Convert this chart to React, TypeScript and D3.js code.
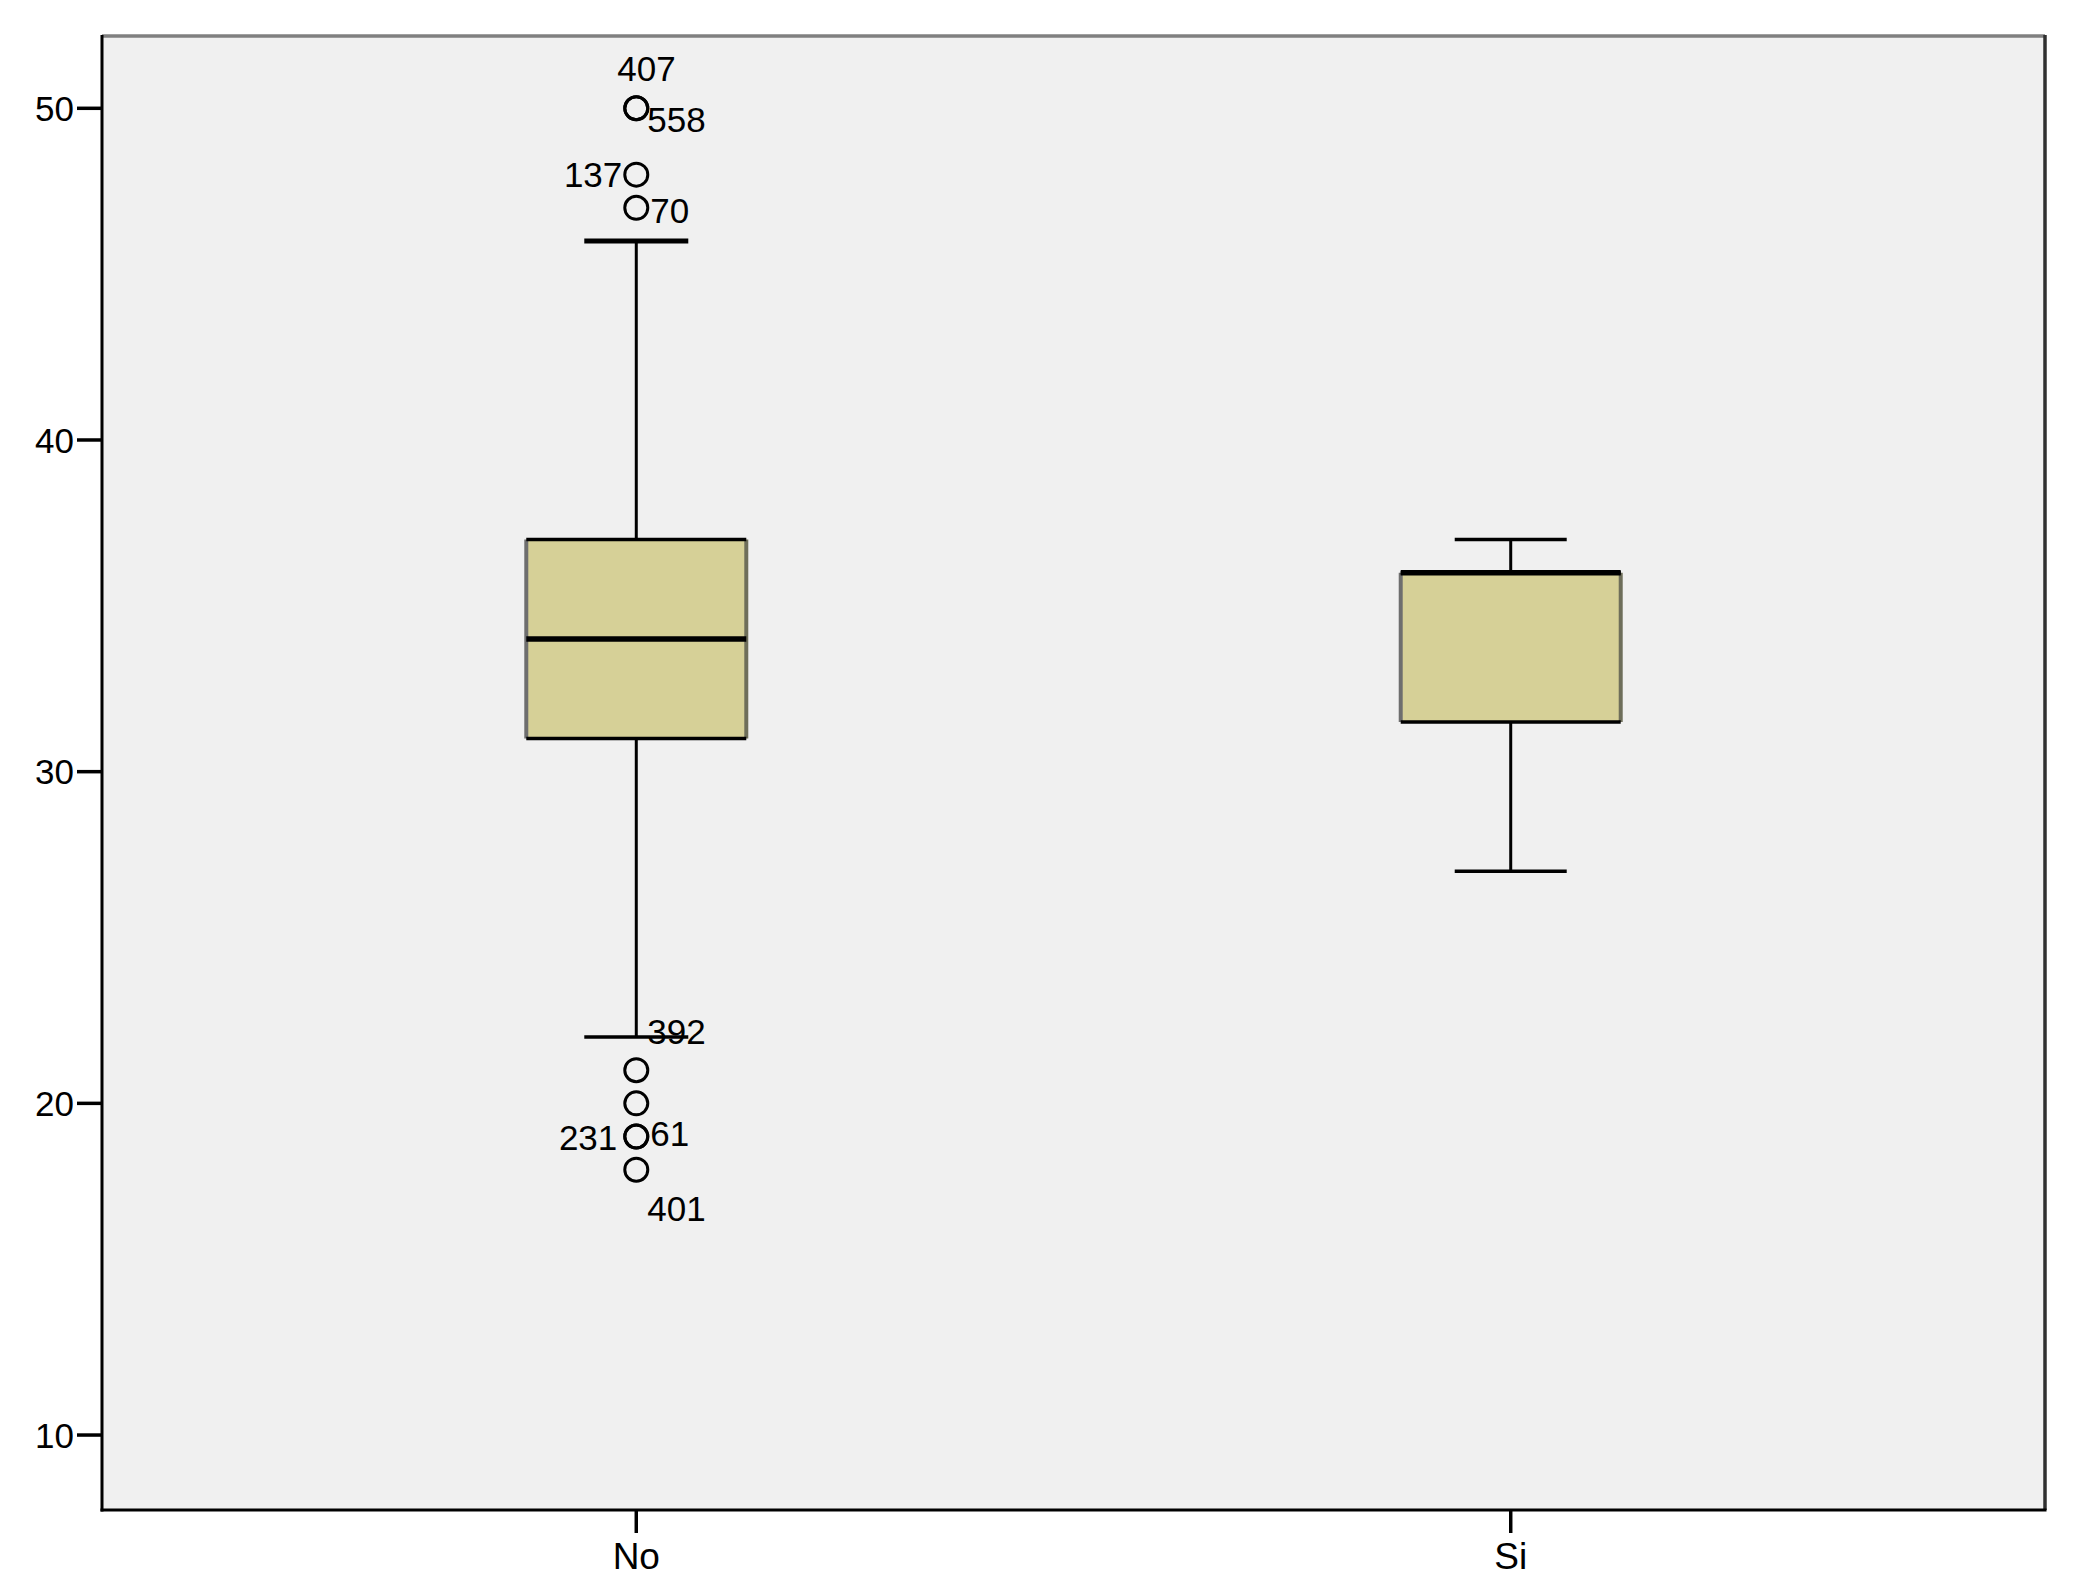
import React from "react";
import * as d3 from "d3";

const categories = ["No", "Si"];
const q1Values = [31, 31.5];
const medianValues = [34, 36];
const q3Values = [37, 36];
const whiskerLowValues = [22, 27];
const whiskerHighValues = [46, 37];
const yTickValues = [10, 20, 30, 40, 50];

const outlierGroup = ["No", "No", "No", "No", "No", "No", "No", "No", "No"];
const outlierValues = [50, 50, 48, 47, 21, 20, 19, 19, 18];
const outlierLabels = ["407", "558", "137", "70", "392", "", "231", "61", "401"];

// label placement styles (dx, dy, anchor) for each outlier label
const labelStyle: [number, number, string][] = [
  [-19, -27, "start"],
  [11, 24, "start"],
  [-14, 12, "end"],
  [14, 15, "start"],
  [11, -26, "start"],
  [0, 0, "start"],
  [-19, 13, "end"],
  [14, 9, "start"],
  [11, 51, "start"],
];

const W = 2082;
const H = 1594;
const L = 102;
const R = 2045;
const T = 35;
const B = 1510;
const FONT = "'Liberation Sans', Arial, sans-serif";

export default function App() {
  const y = d3.scaleLinear().domain([7.74, 52.21]).range([B, T]);
  const x = d3.scalePoint<string>().domain(categories).range([L, R]).padding(0.611);
  const boxW = 220;
  const capW = [104, 112];

  return (
    <svg
      width={W}
      height={H}
      style={{ position: "absolute", left: 0, top: 0, background: "#ffffff" }}
    >
      <rect x={L} y={T} width={R - L} height={B - T} fill="#f0f0f0" />
      {/* frame */}
      <line x1={L} y1={T + 1} x2={R} y2={T + 1} stroke="#808080" strokeWidth={3.5} />
      <line x1={R} y1={T} x2={R} y2={B} stroke="#303030" strokeWidth={3.5} />
      <line x1={L} y1={T} x2={L} y2={B + 1.5} stroke="#000" strokeWidth={3} />
      <line x1={L - 1.5} y1={B} x2={R + 1.5} y2={B} stroke="#000" strokeWidth={3} />

      {/* y axis */}
      {yTickValues.map((v) => (
        <g key={v}>
          <line x1={77} x2={L} y1={y(v)} y2={y(v)} stroke="#000" strokeWidth={3.5} />
          <text
            x={74}
            y={y(v)}
            dy="0.36em"
            textAnchor="end"
            fontFamily={FONT}
            fontSize={35}
            fill="#000"
          >
            {v}
          </text>
        </g>
      ))}

      {/* x axis */}
      {categories.map((c) => (
        <g key={c}>
          <line x1={x(c)} x2={x(c)} y1={B} y2={B + 23} stroke="#000" strokeWidth={3.5} />
          <text
            x={x(c)}
            y={1569}
            textAnchor="middle"
            fontFamily={FONT}
            fontSize={37}
            fill="#000"
          >
            {c}
          </text>
        </g>
      ))}

      {/* boxes */}
      {categories.map((c, i) => {
        const cx = x(c) as number;
        const x0 = cx - boxW / 2;
        const x1 = cx + boxW / 2;
        return (
          <g key={c}>
            <line x1={cx} x2={cx} y1={y(whiskerHighValues[i])} y2={y(q3Values[i])} stroke="#000" strokeWidth={3} />
            <line x1={cx} x2={cx} y1={y(q1Values[i])} y2={y(whiskerLowValues[i])} stroke="#000" strokeWidth={3} />
            <line
              x1={cx - capW[i] / 2}
              x2={cx + capW[i] / 2}
              y1={y(whiskerHighValues[i])}
              y2={y(whiskerHighValues[i])}
              stroke="#000"
              strokeWidth={i === 0 ? 5 : 3.5}
            />
            <line
              x1={cx - capW[i] / 2}
              x2={cx + capW[i] / 2}
              y1={y(whiskerLowValues[i])}
              y2={y(whiskerLowValues[i])}
              stroke="#000"
              strokeWidth={3.5}
            />
            <rect
              x={x0}
              y={y(q3Values[i])}
              width={boxW}
              height={y(q1Values[i]) - y(q3Values[i])}
              fill="#d6d097"
            />
            <line x1={x0} x2={x0} y1={y(q3Values[i])} y2={y(q1Values[i])} stroke="#6e6e6e" strokeWidth={4} />
            <line x1={x1} x2={x1} y1={y(q3Values[i])} y2={y(q1Values[i])} stroke="#6e6e5a" strokeWidth={4} />
            <line x1={x0} x2={x1} y1={y(q3Values[i])} y2={y(q3Values[i])} stroke="#000" strokeWidth={3.5} />
            <line x1={x0} x2={x1} y1={y(q1Values[i])} y2={y(q1Values[i])} stroke="#000" strokeWidth={3.5} />
            <line x1={x0} x2={x1} y1={y(medianValues[i])} y2={y(medianValues[i])} stroke="#000" strokeWidth={5.5} />
          </g>
        );
      })}

      {/* outliers */}
      {outlierValues.map((v, i) => {
        const cx = x(outlierGroup[i]) as number;
        const cy = y(v);
        const [dx, dy, anchor] = labelStyle[i];
        return (
          <g key={i}>
            <circle cx={cx} cy={cy} r={11.5} fill="none" stroke="#000" strokeWidth={3} />
            {outlierLabels[i] && (
              <text
                x={cx + dx}
                y={cy + dy}
                textAnchor={anchor as any}
                fontFamily={FONT}
                fontSize={35}
                fill="#000"
              >
                {outlierLabels[i]}
              </text>
            )}
          </g>
        );
      })}
    </svg>
  );
}
